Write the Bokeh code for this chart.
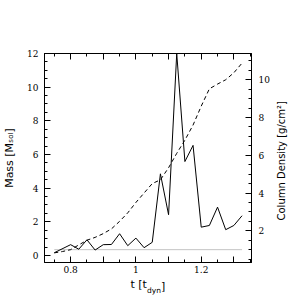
import math
from bokeh.plotting import figure
from bokeh.models import (Range1d, LinearAxis, FixedTicker, SingleIntervalTicker,
                          CustomLabelingPolicy, Label)
from bokeh.embed import file_html
from bokeh.resources import INLINE

# ---- data ----
mass_t = [0.75, 0.80, 0.825, 0.85, 0.875, 0.90, 0.925, 0.95, 0.975, 1.00, 1.025, 1.05,
          1.075, 1.10, 1.125, 1.15, 1.175, 1.20, 1.225, 1.25, 1.275, 1.30, 1.325]
mass = [0.16, 0.64, 0.37, 0.93, 0.32, 0.64, 0.65, 1.29, 0.58, 1.03, 0.46, 0.78,
        4.85, 2.42, 12.0, 5.58, 6.54, 1.68, 1.78, 2.87, 1.53, 1.78, 2.36]

dens_t = [0.75, 0.775, 0.80, 0.825, 0.85, 0.875, 0.90, 0.925, 0.95, 0.975, 1.00, 1.025,
          1.05, 1.075, 1.10, 1.125, 1.15, 1.175, 1.20, 1.225, 1.25, 1.275, 1.30, 1.325]
dens = [0.83, 0.90, 1.0, 1.25, 1.5, 1.65, 1.85, 2.1, 2.5, 2.95, 3.5, 4.0,
        4.5, 4.7, 5.34, 6.1, 6.8, 7.6, 8.6, 9.52, 9.77, 10.0, 10.37, 10.88]

thresh_t = [0.75, 1.325]
thresh = [1.0, 1.0]

x_major = [0.8, 0.9, 1.0, 1.1, 1.2, 1.3]
x_minor = [0.75, 0.85, 0.95, 1.05, 1.15, 1.25, 1.35]
x_labels = {0.8: "0.8", 1.0: "1", 1.2: "1.2"}

left_title = "Mass [Mₛₒₗ]"
right_title = "Column Density [g/cm²]"

TICK_FONT = "DejaVu Serif"
TITLE_FONT = "DejaVu Sans"

p = figure(width=296, height=296, output_backend="svg", toolbar_location=None,
           x_range=Range1d(0.72, 1.354), y_range=Range1d(-0.42, 12.0),
           x_axis_location=None, y_axis_location=None,
           min_border_left=42, min_border_right=45, min_border_top=53, min_border_bottom=34)
p.extra_y_ranges = {"dens": Range1d(0.32, 11.39)}
p.grid.visible = False
p.outline_line_color = "black"
p.outline_line_width = 1
p.background_fill_color = "white"
p.border_fill_color = "white"


def style(ax):
    ax.axis_line_color = "black"
    ax.major_tick_line_color = "black"
    ax.minor_tick_line_color = "black"
    ax.major_tick_in = 6
    ax.major_tick_out = 0
    ax.minor_tick_in = 3
    ax.minor_tick_out = 0
    ax.major_label_text_font = TICK_FONT
    ax.major_label_text_font_size = "9px"
    ax.major_label_text_color = "black"
    ax.axis_label_text_font = TITLE_FONT
    ax.axis_label_text_font_size = "11px"
    ax.axis_label_text_font_style = "normal"
    ax.axis_label_text_color = "black"


keep_even = CustomLabelingPolicy(code="""
for (const i of indices)
  if (i % 2 == 0)
    yield i
""")
keep_none = CustomLabelingPolicy(code="""
for (const i of indices)
  if (i < 0)
    yield i
""")

bottom = LinearAxis(ticker=FixedTicker(ticks=x_major, minor_ticks=x_minor),
                    major_label_overrides=x_labels, major_label_policy=keep_even)
style(bottom)
bottom.major_label_standoff = 3
p.add_layout(bottom, "below")

top = LinearAxis(ticker=FixedTicker(ticks=x_major, minor_ticks=x_minor),
                 major_label_policy=keep_none)
style(top)
p.add_layout(top, "above")

left = LinearAxis(ticker=SingleIntervalTicker(interval=2, num_minor_ticks=4),
                  axis_label=left_title)
style(left)
left.major_label_standoff = 6
left.axis_label_standoff = 8
p.add_layout(left, "left")

right = LinearAxis(y_range_name="dens", ticker=SingleIntervalTicker(interval=2, num_minor_ticks=4))
style(right)
right.major_label_standoff = 7
p.add_layout(right, "right")

# ---- data lines ----
p.line(thresh_t, thresh, y_range_name="dens", line_color="#c4c4c4", line_width=1)
p.line(dens_t, dens, y_range_name="dens", line_color="black", line_width=1, line_dash="4 3")
p.line(mass_t, mass, line_color="black", line_width=1)


def lab(side, x, y, text, size, angle=0.0):
    p.add_layout(Label(x=x, y=y, x_units="screen", y_units="screen", text=text,
                       text_font=TITLE_FONT, text_font_size=size, text_color="black",
                       text_align="left", text_baseline="alphabetic", angle=angle), side)


# right title, reading upwards
lab("right", 9, 42, right_title, "10px", math.pi / 2)

# x title pieces (placed in the top side panel, shifted down below the frame)
lab("above", 86, -246, "t [t", "11px")
lab("above", 102.5, -265, "dyn", "7.5px")
lab("above", 116.5, -270, "]", "11px")

open("out.html", "w").write(file_html(p, INLINE))
